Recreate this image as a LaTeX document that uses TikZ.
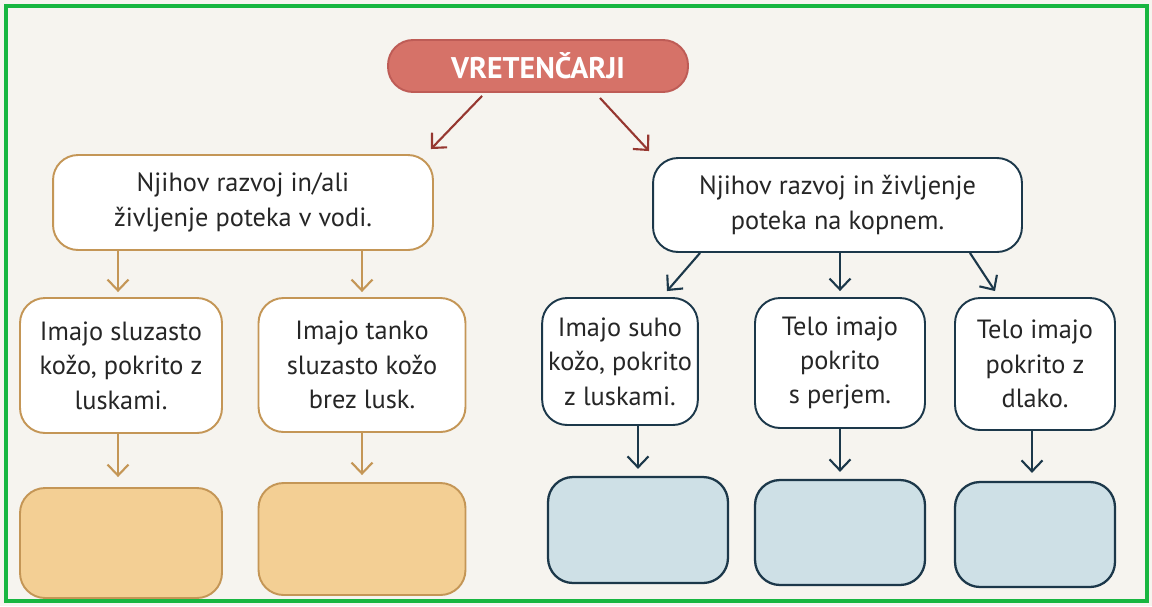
\documentclass[tikz,border=0pt]{standalone}
\usepackage{fontspec}
\setmainfont{PT Sans}
\usetikzlibrary{arrows.meta}

\begin{document}
\begin{tikzpicture}[x=0.02cm,y=-0.02cm,
		besedilo/.style={align=center, font=\fontsize{15}{19.6}\selectfont, text=black!85},
		vodni/.style={besedilo, draw=vodarob, fill=white, line width=1.1pt, rounded corners=0.5cm},
		kopenski/.style={besedilo, draw=kopnorob, fill=white, line width=1.1pt, rounded corners=0.5cm},
		praznovoda/.style={draw=vodarob, fill=vodapolnilo, line width=1.1pt, rounded corners=0.5cm},
		praznokopno/.style={draw=kopnorob, fill=kopnopolnilo, line width=1.3pt, rounded corners=0.5cm},
		puscica/.style={line width=1.2pt, -{Straight Barb[length=2.2mm,width=4.2mm]}}]
		
		% Define colors
		\definecolor{papir}{RGB}{246, 244, 239}
		\definecolor{okvir}{RGB}{24, 182, 64}
		\definecolor{glava}{RGB}{214, 114, 104}
		\definecolor{glavarob}{RGB}{190, 92, 86}
		\definecolor{rdeca}{RGB}{150, 55, 48}
		\definecolor{vodarob}{RGB}{196, 150, 86}
		\definecolor{vodapolnilo}{RGB}{243, 207, 148}
		\definecolor{kopnorob}{RGB}{28, 56, 74}
		\definecolor{kopnopolnilo}{RGB}{206, 224, 230}
		
		% Paper and frame
		\fill[papir] (0,0) rectangle (1152,606);
		\draw[okvir, line width=0.08cm] (6,6) rectangle (1147,601);
		\useasboundingbox (0,0) rectangle (1152,606);
		
		% Top node
		\node[fill=glava, draw=glavarob, line width=1.1pt, rounded corners=0.5cm,
			minimum width=6cm, minimum height=1.04cm, text=white,
			font=\fontsize{17}{20}\selectfont\bfseries] (vretencarji) at (538,66) {VRETENČARJI};
		
		% Water and land
		\node[vodni, minimum width=7.6cm, minimum height=1.9cm] (voda) at (243,202.5)
			{Njihov razvoj in/ali\\življenje poteka v vodi.};
		\node[kopenski, minimum width=7.38cm, minimum height=1.88cm] (kopno) at (837.5,205)
			{Njihov razvoj in življenje\\poteka na kopnem.};
		
		% Second row
		\node[vodni, minimum width=4.04cm, minimum height=2.7cm] (vodaA) at (121,365.5)
			{Imajo sluzasto\\kožo, pokrito z\\luskami.};
		\node[vodni, minimum width=4.14cm, minimum height=2.68cm] (vodaB) at (362,365)
			{Imajo tanko\\sluzasto kožo\\brez lusk.};
		\node[kopenski, minimum width=3cm, minimum height=2.54cm] (kopnoA) at (620,361.5)
			{Imajo suho\\kožo, pokrito\\z luskami.};
		\node[kopenski, minimum width=3.4cm, minimum height=2.6cm] (kopnoB) at (840,363)
			{Telo imajo\\pokrito\\s perjem.};
		\node[kopenski, minimum width=3.2cm, minimum height=2.64cm] (kopnoC) at (1035,364)
			{Telo imajo\\pokrito z\\dlako.};
		
		% Empty boxes
		\node[praznovoda, minimum width=4.04cm, minimum height=2.2cm] (praznoA) at (121,543) {};
		\node[praznovoda, minimum width=4.14cm, minimum height=2.24cm] (praznoB) at (362,539) {};
		\node[praznokopno, minimum width=3.6cm, minimum height=2.12cm] (praznoC) at (638,530) {};
		\node[praznokopno, minimum width=3.4cm, minimum height=2.1cm] (praznoD) at (840,532.5) {};
		\node[praznokopno, minimum width=3.2cm, minimum height=2.1cm] (praznoE) at (1035,534.5) {};
		
		% Arrows
		\draw[puscica, rdeca] ([xshift=-1.12cm,yshift=-0.06cm]vretencarji.south)
			-- ([xshift=-0.06cm,yshift=0.1cm]voda.north east);
		\draw[puscica, rdeca] ([xshift=1.24cm,yshift=-0.1cm]vretencarji.south)
			-- ([xshift=-0.06cm,yshift=0.12cm]kopno.north west);
		
		\draw[puscica, vodarob] ([xshift=-0.06cm]vodaA.north |- voda.south) -- ([xshift=-0.06cm,yshift=0.1cm]vodaA.north);
		\draw[puscica, vodarob] (vodaB.north |- voda.south) -- ([yshift=0.1cm]vodaB.north);
		\draw[puscica, vodarob] ([xshift=-0.06cm]vodaA.south) -- ([xshift=-0.06cm,yshift=0.2cm]praznoA.north);
		\draw[puscica, vodarob] (vodaB.south) -- ([yshift=0.14cm]praznoB.north);
		
		\draw[puscica, kopnorob] ([xshift=-2.75cm]kopno.south) -- ([xshift=0.94cm,yshift=0.12cm]kopnoA.north);
		\draw[puscica, kopnorob] (kopnoB.north |- kopno.south) -- ([yshift=0.12cm]kopnoB.north);
		\draw[puscica, kopnorob] ([xshift=2.65cm]kopno.south) -- ([xshift=-0.8cm,yshift=0.12cm]kopnoC.north);
		\draw[puscica, kopnorob] (praznoC.north |- kopnoA.south) -- ([yshift=0.14cm]praznoC.north);
		\draw[puscica, kopnorob] (kopnoB.south) -- ([yshift=0.14cm]praznoD.north);
		\draw[puscica, kopnorob] ([xshift=-0.06cm]kopnoC.south) -- ([xshift=-0.06cm,yshift=0.16cm]praznoE.north);
	\end{tikzpicture}
\end{document}
